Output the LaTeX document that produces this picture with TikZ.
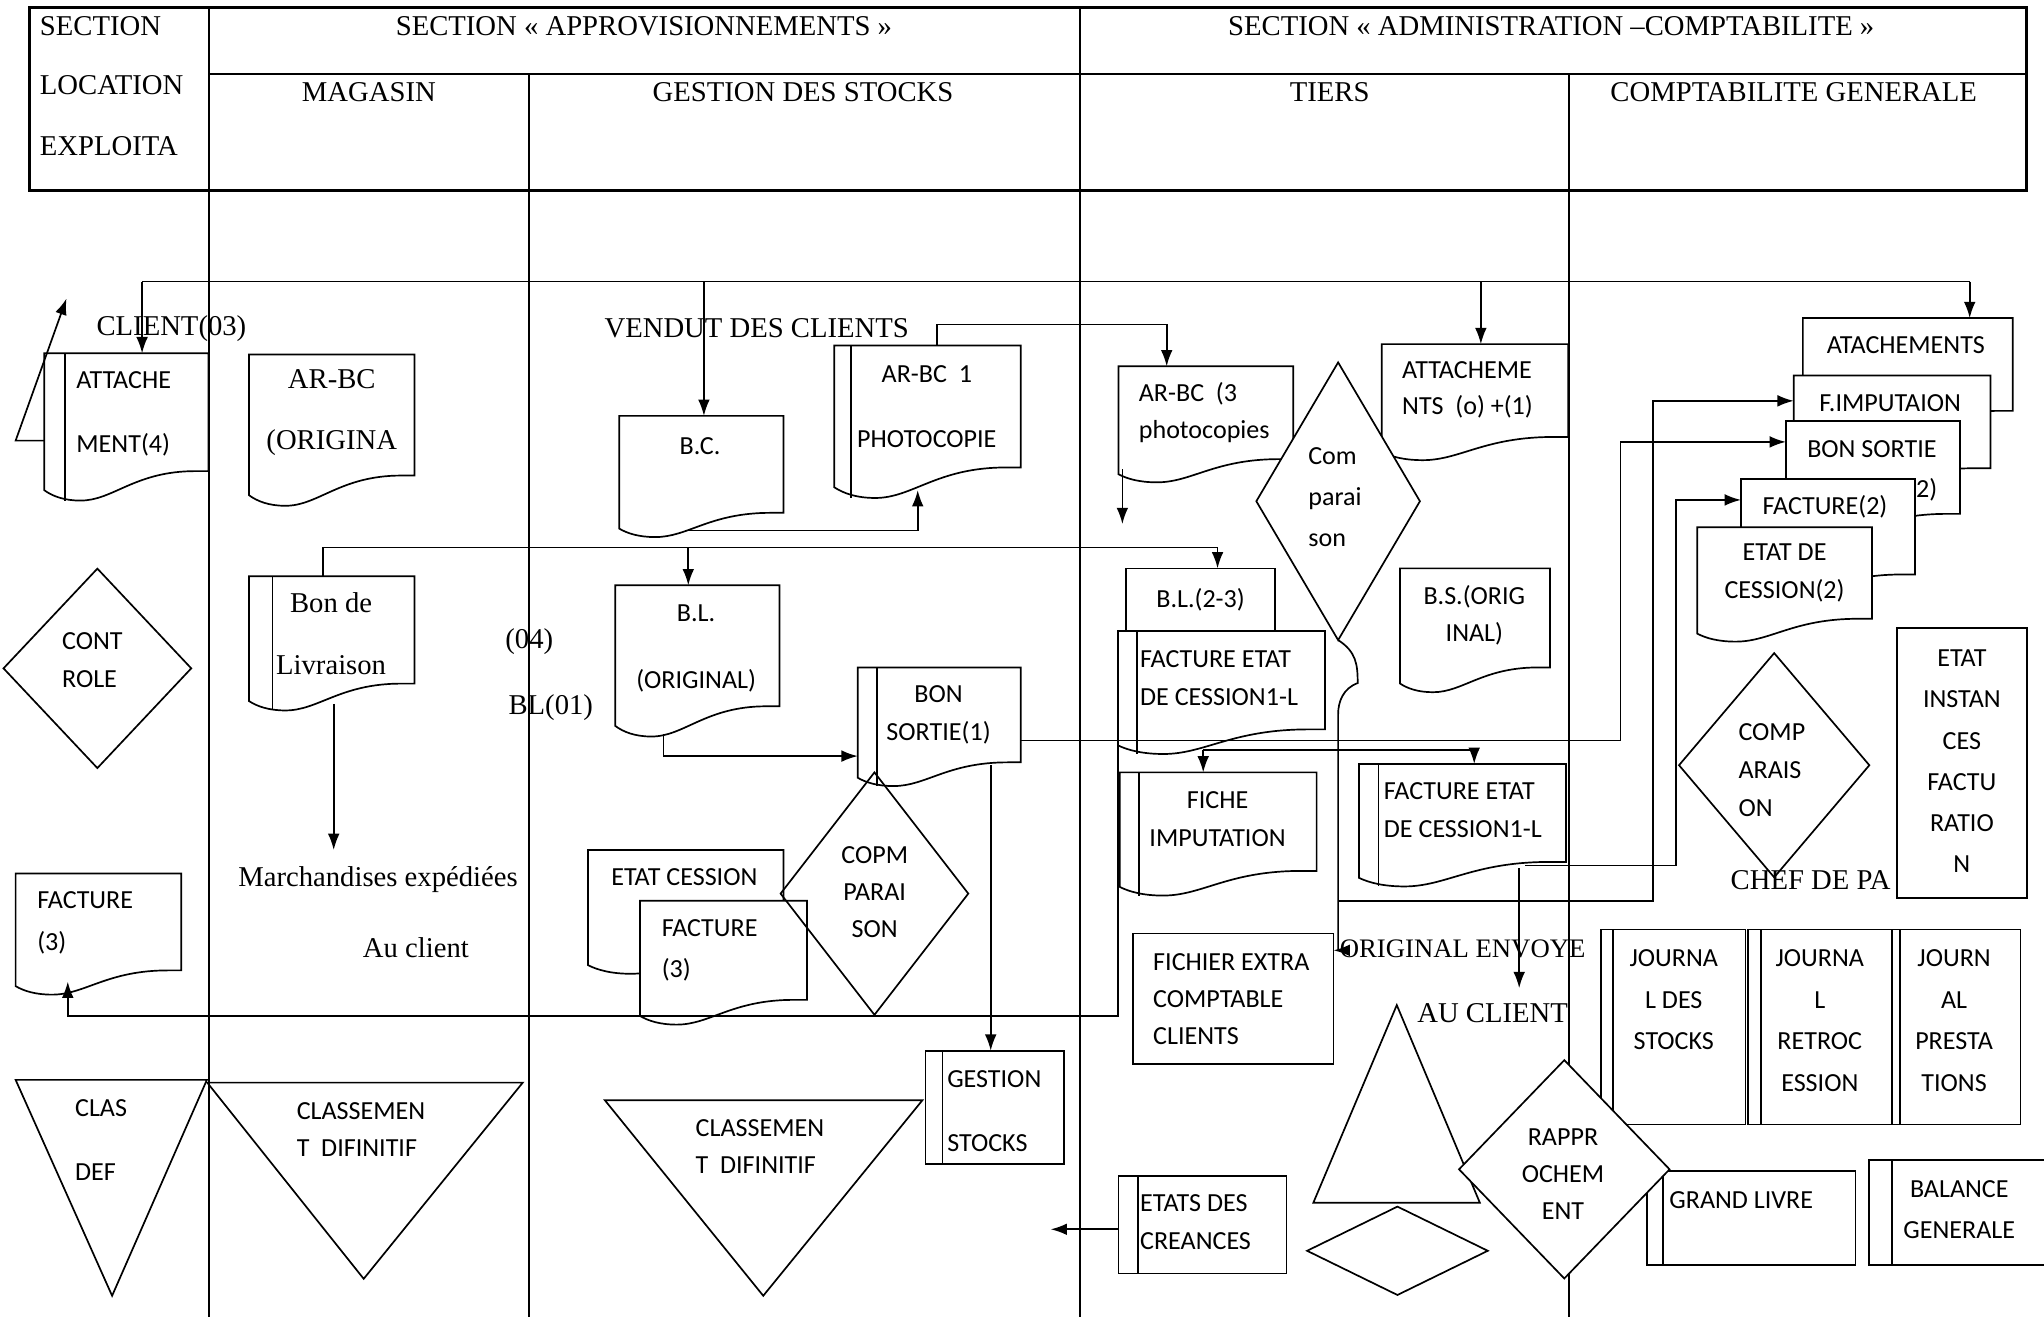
\documentclass[tikz,border=0pt]{standalone}
\usepackage{fontspec}
\setmainfont{Liberation Serif}
\newfontfamily\carl{Carlito}
\usepackage{tikz}
\usetikzlibrary{shapes.geometric}
\usetikzlibrary{arrows.meta}
\usetikzlibrary{calc,fit}

% document outline with wavy bottom, drawn on the box of a node
\newcommand\docshape[2][]{%
  \path[draw,#1] let \p1=(#2.north west), \p2=(#2.south east),
    \n1={\x2-\x1}, \n2={\y1-\y2} in
    (\x1,\y1) -- (\x2,\y1) -- (\x2,\y2+0.2*\n2) -- (\x2-0.08*\n1,\y2+0.2*\n2)
    .. controls (\x1+0.55*\n1,\y2+0.2*\n2) and (\x1+0.42*\n1,\y2) .. (\x1+0.22*\n1,\y2)
    .. controls (\x1+0.12*\n1,\y2) and (\x1+0.05*\n1,\y2+0.03*\n2) .. (\x1,\y2+0.07*\n2) -- cycle;}
% inner left line
\newcommand\docline[2][14]{%
  \draw let \p1=(#2.north west), \p2=(#2.south east) in (\x1+#1pt,\y1) -- (\x1+#1pt,\y2);}

\begin{document}
\begin{tikzpicture}[x=1pt, y=-1pt, line width=1.3pt, >={Latex[length=12.5pt,width=9pt]},
	doc/.style={inner sep=0pt, outer sep=0pt},
	box/.style={draw, inner sep=0pt, outer sep=0pt},
	dia/.style={draw, diamond, inner sep=0pt, outer sep=0pt},
	lab/.style={inner sep=0pt, align=center, font=\carl\fontsize{20}{#1}\selectfont},
	lab/.default=30,
	labl/.style={lab=#1, align=left, anchor=west},
	labl/.default=30,
	ser/.style={inner sep=0pt, align=center, font=\fontsize{22}{#1}\selectfont},
	ser/.default=47,
	serl/.style={ser=#1, align=left, anchor=west},
	serl/.default=47]
	\useasboundingbox (0,0) rectangle (1568,1010);

	% Header
	\draw[line width=2.2pt] (22.6,5.6) rectangle (1554.5,146.3);
	\draw[line width=1.6pt] (160.5,5.6) -- (160.5,146.3);
	\draw[line width=1.6pt] (160.5,57) -- (1554.5,57);
	\draw[line width=1.6pt] (828.5,5.6) -- (828.5,146.3);
	\draw (406,57) -- (406,146.3);
	\draw (1203.5,57) -- (1203.5,146.3);
	\node[serl] (h-sec) at (30,20) {SECTION};
	\node[serl] (h-loc) at (30,65) {LOCATION};
	\node[serl] (h-exp) at (30,112) {EXPLOITA};
	\node[ser] (h-appro) at (494,20) {SECTION « APPROVISIONNEMENTS »};
	\node[ser] (h-admin) at (1190,20) {SECTION « ADMINISTRATION –COMPTABILITE »};
	\node[ser] (h-mag) at (283,71) {MAGASIN};
	\node[ser] (h-gest) at (616,71) {GESTION DES STOCKS};
	\node[ser] (h-tiers) at (1020,71) {TIERS};
	\node[ser] (h-cg) at (1376,71) {COMPTABILITE GENERALE};

	% Lanes
	\foreach \xl in {160.5,406,828.5,1203.5}
		\draw (\xl,146.3) -- (\xl,1010);

	% Location exploitation
	\node[doc, fit={(34,271) (160,384)}] (attach4) {};
	\docshape{attach4} \docline[16]{attach4}
	\node[dia, minimum width=144pt, minimum height=153pt] (controle) at (74.7,512.7) {};
	\node[doc, fit={(12,670) (139,763)}] (fact3a) {};
	\docshape{fact3a}
	\draw (12,828.4) -- (158.7,828.4) -- (86,994) -- cycle;

	% Magasin
	\node[doc, fit={(191,272) (318,388)}] (arbcorig) {};
	\docshape{arbcorig}
	\node[doc, fit={(191,442) (318,545)}] (bonliv) {};
	\docshape{bonliv} \docline[18]{bonliv}
	\draw (159,830.5) -- (401,830.5) -- (279,981) -- cycle;

	% Gestion des stocks
	\node[doc, fit={(475,319) (601,412)}] (bc) {};
	\docshape{bc}
	\node[doc, fit={(640,265) (783,382)}] (arbc1) {};
	\docshape{arbc1} \docline[13]{arbc1}
	\node[doc, fit={(472,449) (598,565)}] (bl) {};
	\docshape{bl}
	\node[doc, fit={(658,512) (783,603)}] (bonsort) {};
	\docshape{bonsort} \docline[15]{bonsort}
	\node[doc, fit={(451,652) (601,747)}] (etatces) {};
	\docshape{etatces}
	\node[doc, fit={(491,691) (619,786)}] (fact3b) {};
	\docshape[fill=white]{fact3b}
	\node[dia, minimum width=144pt, minimum height=186pt] (copm) at (670.8,685.5) {};
	\draw (464,844) -- (707.6,844) -- (585.5,994) -- cycle;
	\node[box, fit={(710,806) (816,893)}] (gestst) {};
	\docline[13]{gestst}

	% Tiers
	\node[doc, fit={(858,281) (992,370)}] (arbc3) {};
	\docshape{arbc3}
	\node[doc, fit={(1060,264) (1203,353)}] (attachnts) {};
	\docshape{attachnts}
	\node[dia, fill=white, minimum width=125.5pt, minimum height=213pt] (compar) at (1026.5,384.5) {};
	\node[box, fit={(864,436) (978,500)}] (bl23) {};
	\node[doc, fit={(857.6,484) (1016.4,578.4)}] (factetat1) {};
	\docshape[fill=white]{factetat1} \docline[14.5]{factetat1}
	\node[doc, fit={(1074,436) (1189,531)}] (bsorig) {};
	\docshape{bsorig}
	\node[doc, fit={(859,592.5) (1010,687)}] (fiche) {};
	\docshape{fiche} \docline[15]{fiche}
	\node[doc, fit={(1042.5,586) (1201.3,680)}] (factetat2) {};
	\docshape{factetat2} \docline[15]{factetat2}
	\node[box, fit={(869,716) (1023,816)}] (fichier) {};
	\node[box, fit={(858,902) (987,977)}] (etatscre) {};
	\docline[15]{etatscre}
	\draw (1071.5,771) -- (1135.2,922.6) -- (1007.5,922.6) -- cycle;
	\node[dia, minimum width=138.6pt, minimum height=67.8pt] (dia2) at (1072,959.5) {};

	% Comptabilite generale
	\node[doc, fit={(1383,244) (1544,333)}] (atach) {};
	\docshape[fill=white]{atach}
	\node[doc, fit={(1376,288) (1527,377)}] (fimput) {};
	\docshape[fill=white]{fimput}
	\node[doc, fit={(1370,323) (1503.5,412)}] (bonsort2) {};
	\docshape[fill=white]{bonsort2}
	\node[lab] (t-bonsort2b) at (1475,376) {(2)};
	\node[doc, fit={(1335.5,367.5) (1469,459)}] (fact2) {};
	\docshape[fill=white]{fact2}
	\node[doc, fit={(1302,404.5) (1436,492.2)}] (etatces2) {};
	\docshape[fill=white]{etatces2}
	\node[dia, minimum width=146pt, minimum height=172pt] (comparais) at (1361,587) {};
	\node[serl] (t-chef) at (1327,675) {CHEF DE PA};
	\node[box, fill=white, fit={(1455,482) (1555,689)}] (etatinst) {};
	\node[box, fit={(1228,713) (1339,862.5)}] (journst) {};
	\docline[9.5]{journst}
	\node[box, fit={(1341,713) (1451,862.5)}] (journret) {};
	\docline[10]{journret}
	\node[box, fit={(1451.5,713) (1550,862.5)}] (journpre) {};
	\docline[6]{journpre}
	\node[box, fit={(1263.5,898.5) (1423.4,970.6)}] (grandl) {};
	\docline[12]{grandl}
	\node[box, fit={(1433.6,890) (1575,970.6)}] (balance) {};
	\docline[18]{balance}
	\node[dia, fill=white, minimum width=161.5pt, minimum height=167.5pt] (rappr) at (1200,897) {};

	% Connectors
	\coordinate (tl) at (109,216);
	\coordinate (tr) at (1511,216);
	\draw (tl) -- (tr);
	\draw[->] (tl) -- (tl |- attach4.north);
	\draw[<-] ([xshift=2]bc.north) -- ++(0,-103);
	\draw[<-] ([xshift=4.5]attachnts.north) -- ++(0,-48);
	\draw[->] (tr) -- (tr |- atach.north);
	\draw[->] ([yshift=-10.5]attach4.west) -- ++(-22,0) -- ++(39,-109);
	\draw[->] ([xshift=7.5]arbc1.north) -- ++(0,-16) -| ([xshift=-30]arbc3.north);
	\draw[->] ([xshift=-10,yshift=5]bc.south) -| ([xshift=-7.5,yshift=6]arbc1.south);
	\draw[->] ([xshift=-6.5]bonliv.north) -- ++(0,-22) -| ([xshift=13]bl23.north);
	\draw[->] ([xshift=-7,yshift=29]bl.north) -- ([xshift=-7]bl.north);
	\draw[->] ([xshift=1.5,yshift=5]bonliv.south) -- ++(0,112);
	\draw[->] ([xshift=-26,yshift=2]bl.south) |- ([yshift=-22.5]bonsort.west);
	\draw[->] ([yshift=-10.5]bonsort.east) -- ++(460,0) |- ([yshift=-16]bonsort2.north west);
	\draw[->] ([xshift=39.5,yshift=16]bonsort.south) -- ([xshift=-3]gestst.north);
	\draw[->] ([xshift=3,yshift=10]arbc3.south west) -- ++(0,42);
	\coordinate (j1) at ([xshift=-14,yshift=3]factetat1.south);
	\draw[->] (j1) -- ([xshift=-11.5]fiche.north);
	\draw[->] (j1) -| ([xshift=9]factetat2.north);
	\draw[->] ([yshift=6]factetat1.south west) -- ++(0,207) -| ([xshift=-23.5,yshift=10]fact3a.south);
	\draw[->] (compar.south) .. controls +(14,9) and +(0,-14) .. ++(15,33)
		.. controls +(-11,4) and +(0,-10) .. ++(-15,24) -- ++(0,150) |- ([yshift=37]fichier.east);
	\coordinate (l1) at ([yshift=-200]compar.south);
	\draw[->] (l1) -- ++(241.5,0) |- ([yshift=-19.5]fimput.north west);
	\draw[->] ([xshift=48,yshift=16]factetat2.south) -- ++(116,0) |- ([yshift=-16]fact2.north west);
	\draw[->] ([xshift=43.5,yshift=14]factetat2.south) -- ++(0,92);
	\draw[->] ([yshift=-3.5]etatscre.west) -- ++(-52,0);

	% Texts
	\node[ser] (t-client) at (131.5,252) {CLIENT(03)};
	\node[labl=49] (t-attach4) at (58,317.5) {ATTACHE\\MENT(4)};
	\node[labl=29] (t-controle) at (47,506.5) {CONT\\ROLE};
	\node[labl=32] (t-fact3a) at (28,708) {FACTURE\\(3)};
	\node[labl=49] (t-clas) at (57,874.5) {CLAS\\DEF};
	\node[ser=47] (t-arbcorig) at (254.5,316.5) {AR-BC\\(ORIGINA};
	\node[ser=48] (t-bonliv) at (254,486) {Bon de\\Livraison};
	\node[ser] (t-march) at (290,675) {Marchandises expédiées};
	\node[ser] (t-auclient) at (319,727) {Au client};
	\node[labl=29] (t-clas2) at (227,866.5) {CLASSEMEN\\T~~DIFINITIF};
	\node[ser] (t-vendut) at (580.5,252) {VENDUT DES CLIENTS};
	\node[ser] (t-04) at (406,492) {(04)};
	\node[ser] (t-bl01) at (422.5,543) {BL(01)};
	\node[lab] (t-bc) at (537,342) {B.C.};
	\node[lab=50] (t-arbc1) at (711,312) {AR-BC~~1\\PHOTOCOPIE};
	\node[lab=51] (t-bl) at (534,497.5) {B.L.\\(ORIGINAL)};
	\node[lab=29] (t-bonsort) at (720,548.5) {BON\\SORTIE(1)};
	\node[lab] (t-etatces) at (525,673) {ETAT CESSION};
	\node[labl=32] (t-fact3b) at (507,729) {FACTURE\\(3)};
	\node[lab=28.5] (t-copm) at (671,684.5) {COPM\\PARAI\\SON};
	\node[labl=29] (t-clas3) at (533,879.5) {CLASSEMEN\\T~~DIFINITIF};
	\node[labl=49] (t-gestst) at (726,852.5) {GESTION\\STOCKS};
	\node[labl=29] (t-arbc3) at (873,316.5) {AR-BC~~(3\\photocopies};
	\node[labl=31.5] (t-compar) at (1003,381.5) {Com\\parai\\son};
	\node[labl=28] (t-attachnts) at (1075,299) {ATTACHEME\\NTS~~(o) +(1)};
	\node[lab] (t-bl23) at (921,460) {B.L.(2-3)};
	\node[labl=29] (t-factetat1) at (874,520.5) {FACTURE ETAT\\DE CESSION1-L};
	\node[lab=28] (t-bsorig) at (1131,472) {B.S.(ORIG\\INAL)};
	\node[lab=29] (t-fiche) at (934,628.5) {FICHE\\IMPUTATION};
	\node[labl=29] (t-factetat2) at (1061,621.5) {FACTURE ETAT\\DE CESSION1-L};
	\node[labl=28.5] (t-fichier) at (884,766.5) {FICHIER EXTRA\\COMPTABLE\\CLIENTS};
	\node[labl=29] (t-etatscre) at (874,937.5) {ETATS DES\\CREANCES};
	\node[ser, font=\fontsize{20.5}{24}\selectfont] (t-orig) at (1122,728) {ORIGINAL ENVOYE};
	\node[ser] (t-auclient2) at (1145,777) {AU CLIENT};
	\node[lab] (t-atach) at (1462,265) {ATACHEMENTS};
	\node[lab] (t-fimput) at (1450,309) {F.IMPUTAION};
	\node[lab] (t-bonsort2) at (1436,344.5) {BON SORTIE};
	\node[lab] (t-fact2) at (1400,389) {FACTURE(2)};
	\node[lab=29] (t-etatces2) at (1369,439.5) {ETAT DE\\CESSION(2)};
	\node[lab=31.6] (t-etatinst) at (1505,584) {ETAT\\INSTAN\\CES\\FACTU\\RATIO\\N};
	\node[labl=29] (t-comparais) at (1333,591) {COMP\\ARAIS\\ON};
	\node[lab=32] (t-journst) at (1284,767) {JOURNA\\L DES\\STOCKS};
	\node[lab=32] (t-journret) at (1396,783) {JOURNA\\L\\RETROC\\ESSION};
	\node[lab=32] (t-journpre) at (1499,783) {JOURN\\AL\\PRESTA\\TIONS};
	\node[lab=28.5] (t-rappr) at (1199,900.5) {RAPPR\\OCHEM\\ENT};
	\node[labl] (t-grandl) at (1280,921) {GRAND LIVRE};
	\node[lab=32] (t-balance) at (1503,928) {BALANCE\\GENERALE};
\end{tikzpicture}
\end{document}
